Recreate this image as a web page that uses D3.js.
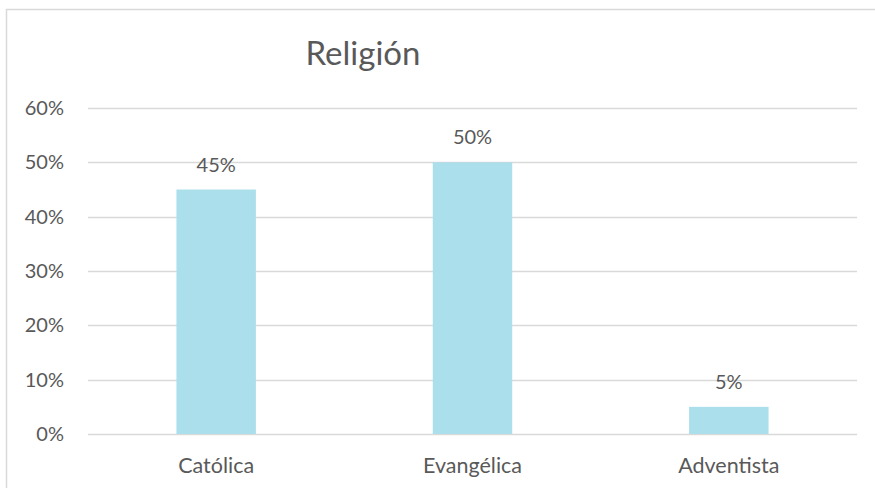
<!DOCTYPE html>
<html>
<head>
<meta charset="utf-8">
<script src="https://cdn.jsdelivr.net/npm/d3@7"></script>
<style>
  body { margin: 0; background: #fff; }
  text { font-family: Lato, "Open Sans", sans-serif; fill: #595959; }
</style>
</head>
<body>
<script>
const categories = ["Católica", "Evangélica", "Adventista"];
const values = [0.45, 0.50, 0.05];
const yTicks = [0, 0.1, 0.2, 0.3, 0.4, 0.5, 0.6];

const width = 875, height = 488;
const margin = { top: 108, right: 18, bottom: 54, left: 88 };

const svg = d3.select("body").append("svg")
  .attr("width", width)
  .attr("height", height);

// chart frame (top + left edges visible)
svg.append("rect")
  .attr("x", 6.5).attr("y", 9.5)
  .attr("width", 880).attr("height", 500)
  .attr("fill", "none")
  .attr("stroke", "#d9d9d9")
  .attr("stroke-width", 1.5);

const x = d3.scaleBand()
  .domain(categories)
  .range([margin.left, width - margin.right])
  .paddingInner(0.69)
  .paddingOuter(0.345);

const y = d3.scaleLinear()
  .domain([0, 0.6])
  .range([height - margin.bottom, margin.top]);

// gridlines
svg.append("g")
  .selectAll("line")
  .data(yTicks)
  .enter()
  .append("line")
  .attr("x1", margin.left)
  .attr("x2", width - margin.right)
  .attr("y1", d => Math.round(y(d)) + 0.5)
  .attr("y2", d => Math.round(y(d)) + 0.5)
  .attr("stroke", "#d9d9d9")
  .attr("stroke-width", 1.5);

// y labels
svg.append("g")
  .selectAll("text")
  .data(yTicks)
  .enter()
  .append("text")
  .attr("x", 64)
  .attr("y", d => y(d) + 7)
  .attr("text-anchor", "end")
  .attr("font-size", 20)
  .text(d => d3.format(".0%")(d));

// bars
svg.append("g")
  .selectAll("rect")
  .data(values)
  .enter()
  .append("rect")
  .attr("x", (d, i) => x(categories[i]))
  .attr("y", d => y(d))
  .attr("width", x.bandwidth())
  .attr("height", d => y(0) - y(d))
  .attr("fill", "#abdfeb");

// value labels
svg.append("g")
  .selectAll("text")
  .data(values)
  .enter()
  .append("text")
  .attr("x", (d, i) => x(categories[i]) + x.bandwidth() / 2)
  .attr("y", d => y(d) - 18)
  .attr("text-anchor", "middle")
  .attr("font-size", 20)
  .text(d => d3.format(".0%")(d));

// category labels
svg.append("g")
  .selectAll("text")
  .data(categories)
  .enter()
  .append("text")
  .attr("x", d => x(d) + x.bandwidth() / 2)
  .attr("y", 473)
  .attr("text-anchor", "middle")
  .attr("font-size", 21.5)
  .text(d => d);

// title
svg.append("text")
  .attr("x", 363)
  .attr("y", 65)
  .attr("text-anchor", "middle")
  .attr("font-size", 33)
  .text("Religión");
</script>
</body>
</html>
